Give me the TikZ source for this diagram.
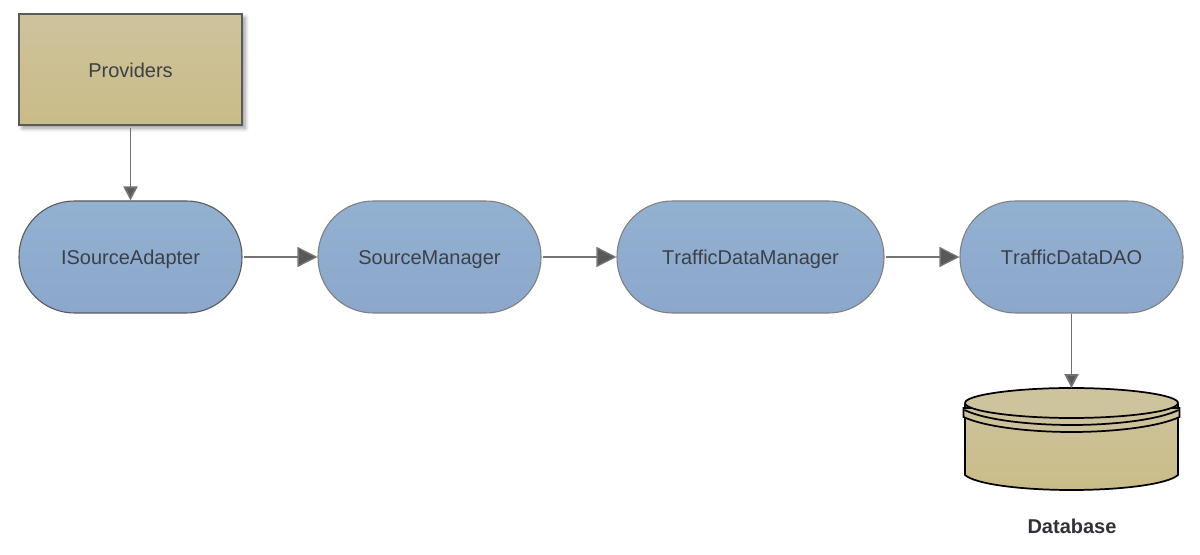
\documentclass[tikz,border=0pt]{standalone}
\usepackage{fontspec}
\setmainfont[Kerning=Off]{Liberation Sans}
\usetikzlibrary{arrows.meta,shadows.blur,calc}
\definecolor{tanTop}{HTML}{CDC39C}
\definecolor{tanBot}{HTML}{CABC88}
\definecolor{blueTop}{HTML}{92B1D0}
\definecolor{blueBot}{HTML}{8CA7CC}
\definecolor{edgeGray}{HTML}{595959}
\definecolor{softGray}{HTML}{7F7F7F}
\definecolor{labelInk}{HTML}{3C3F48}
\tikzset{
  x=0.75pt,y=-0.75pt,
  labelfont/.style={font=\fontsize{15}{18}\selectfont,text=labelInk,text height=15pt,text depth=3pt},
  provider/.style={draw=edgeGray,line width=1pt,top color=tanTop,bottom color=tanBot,
    minimum width=167.25pt,minimum height=83.25pt,inner sep=0pt,labelfont,
    blur shadow={shadow xshift=2.5pt,shadow yshift=-2.5pt,shadow blur steps=6,shadow blur radius=3pt,shadow opacity=40}},
  pill/.style={draw=softGray,line width=0.8pt,top color=blueTop,bottom color=blueBot,
    minimum height=84pt,rounded corners=41.5pt,inner sep=0pt,labelfont},
  smallarrow/.style={draw=edgeGray!85,line width=1.4pt,-{Triangle[length=10.5pt,width=10.5pt,fill=edgeGray]}},
  bigarrow/.style={draw=softGray!70!edgeGray,line width=1pt,-{Triangle[length=15pt,width=15pt,fill=edgeGray]}},
  dbline/.style={draw=black,line width=1.3pt},
}
\begin{document}
\begin{tikzpicture}
\useasboundingbox (0,0) rectangle (1200,555);
\node[provider] (prov) at (130.5,69.5) {Providers};
\node[pill,draw=edgeGray,minimum width=167.25pt] (isa) at (130.5,257) {ISourceAdapter};
\node[pill,minimum width=167.25pt] (sm) at (429.5,257) {SourceManager};
\node[pill,minimum width=200.25pt] (tdm) at (750.5,257) {TrafficDataManager};
\node[pill,minimum width=167.25pt] (dao) at (1071.5,257) {TrafficDataDAO};
% database
\path[dbline,top color=tanTop,bottom color=tanBot]
  (965,405) -- (965,475)
  .. controls (975,484) and (1020,490) .. (1071.5,490)
  .. controls (1123,490) and (1168,484) .. (1178,475) -- (1178,405) -- cycle;
\path[dbline,fill=tanTop!85!tanBot]
  (963.5,408) -- (963.5,417) .. controls (985,427) and (1030,432) .. (1071.5,432)
  .. controls (1113,432) and (1158,427) .. (1179.5,417) -- (1179.5,408) -- cycle;
\draw[dbline] (964.5,410) .. controls (985,420) and (1030,425) .. (1071.5,425)
  .. controls (1113,425) and (1158,420) .. (1178.5,410);
\path[dbline,fill=tanTop]
  (965,403) .. controls (965,395) and (1015,388) .. (1071.5,388)
  .. controls (1128,388) and (1178,395) .. (1178,403)
  .. controls (1178,411) and (1128,418) .. (1071.5,418)
  .. controls (1015,418) and (965,411) .. (965,403) -- cycle;
\node[inner sep=0pt,minimum width=160pt,minimum height=76pt] (db) at (1071.5,439) {};
\node[font=\fontsize{15}{18}\bfseries\selectfont,text=labelInk!80!black,inner sep=0pt] (dbl) at (1072,526) {Database};
% connectors
\draw[smallarrow,shorten <=1.5pt] (prov.south) -- (isa.north);
\draw[bigarrow,shorten <=1pt] (isa.east) -- (sm.west);
\draw[bigarrow,shorten <=1pt] (sm.east) -- (tdm.west);
\draw[bigarrow,shorten <=1pt] (tdm.east) -- (dao.west);
\draw[smallarrow] (dao.south) -- (db.north);
\end{tikzpicture}
\end{document}
